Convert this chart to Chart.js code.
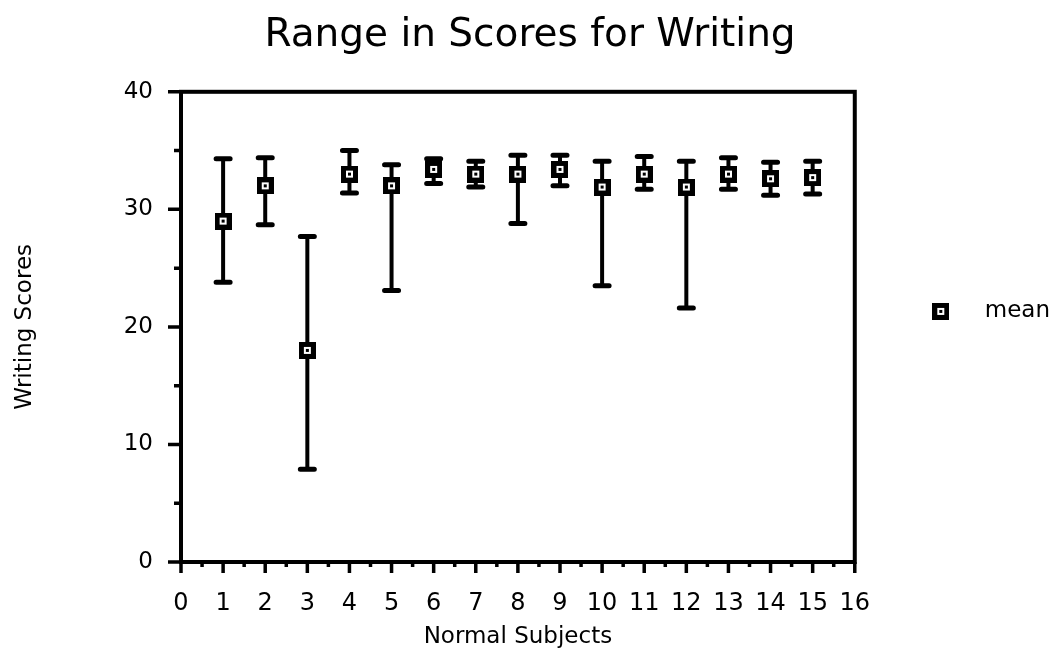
<!DOCTYPE html>
<html>
<head>
<meta charset="utf-8">
<script src="https://cdn.jsdelivr.net/npm/chart.js@4.4.1/dist/chart.umd.min.js"></script>
<style>
  html, body { margin: 0; padding: 0; background: #fff; }
  #wrap { width: 1060px; height: 667px; }
</style>
</head>
<body>
<div id="wrap"><canvas id="c" width="1060" height="667"></canvas></div>
<script>
const subjects = [1, 2, 3, 4, 5, 6, 7, 8, 9, 10, 11, 12, 13, 14, 15];
const means    = [29, 32, 18, 33, 32, 33.4, 33, 33, 33.4, 31.9, 33, 31.9, 33, 32.6, 32.7];
const highs    = [34.3, 34.4, 27.7, 35, 33.8, 34.3, 34.1, 34.6, 34.6, 34.1, 34.5, 34.1, 34.4, 34, 34.1];
const lows     = [23.8, 28.7, 7.9, 31.4, 23.1, 32.2, 31.9, 28.8, 32, 23.5, 31.7, 21.6, 31.7, 31.2, 31.3];
const xTicks = { min: 0, max: 16, step: 1 };
const yTicks = { min: 0, max: 40, step: 10 };
const titleText = 'Range in Scores for Writing';
const xTitle = 'Normal Subjects';
const yTitle = 'Writing Scores';
const seriesLabel = 'mean';

// marker: black square with a small white hollow square inside
function makeMarker() {
  const m = document.createElement('canvas');
  m.width = 17; m.height = 17;
  const g = m.getContext('2d');
  g.fillStyle = '#000';
  g.fillRect(0, 0, 17, 17);
  g.fillStyle = '#fff';
  g.fillRect(5, 5, 7, 7);
  g.fillStyle = '#000';
  g.fillRect(7, 7, 3, 3);
  return m;
}
const marker = makeMarker();

const errorBars = {
  id: 'errorBars',
  beforeDatasetsDraw(chart) {
    const { ctx, scales: { x, y } } = chart;
    ctx.save();
    ctx.strokeStyle = '#000';
    subjects.forEach((s, i) => {
      const px = x.getPixelForValue(s);
      const yh = y.getPixelForValue(highs[i]);
      const yl = y.getPixelForValue(lows[i]);
      ctx.lineCap = 'butt';
      ctx.lineWidth = 4;
      ctx.beginPath();
      ctx.moveTo(px, yh); ctx.lineTo(px, yl); ctx.stroke();
      ctx.lineCap = 'round';
      ctx.lineWidth = 5;
      ctx.beginPath();
      ctx.moveTo(px - 7, yh); ctx.lineTo(px + 7, yh);
      ctx.moveTo(px - 7, yl); ctx.lineTo(px + 7, yl);
      ctx.stroke();
    });
    ctx.restore();
  }
};

const frame = {
  id: 'frame',
  afterDatasetsDraw(chart) {
    const { ctx, chartArea: a, scales: { x, y } } = chart;
    ctx.save();
    ctx.strokeStyle = '#000';
    ctx.lineWidth = 4;
    ctx.strokeRect(a.left, a.top, a.right - a.left, a.bottom - a.top);
    ctx.lineWidth = 3.5;
    ctx.beginPath();
    // y ticks: major every 10, minor every 5
    for (let v = yTicks.min; v <= yTicks.max; v += yTicks.step / 2) {
      const py = y.getPixelForValue(v);
      const len = (v % yTicks.step === 0) ? 13 : 7;
      ctx.moveTo(a.left - len, py); ctx.lineTo(a.left, py);
    }
    // x ticks: major every 1, minor every 0.5
    for (let v = xTicks.min; v <= xTicks.max; v += xTicks.step / 2) {
      const px = x.getPixelForValue(v);
      const len = (v % xTicks.step === 0) ? 11 : 5;
      ctx.moveTo(px, a.bottom); ctx.lineTo(px, a.bottom + len);
    }
    ctx.stroke();
    ctx.restore();
  }
};

Chart.defaults.font.family = '"DejaVu Sans"';
Chart.defaults.color = '#000';

new Chart(document.getElementById('c'), {
  type: 'scatter',
  data: {
    datasets: [{
      label: seriesLabel,
      data: subjects.map((s, i) => ({ x: s, y: means[i] })),
      pointStyle: marker,
      pointRadius: 9,
      pointHoverRadius: 9,
      showLine: false
    }]
  },
  options: {
    responsive: false,
    animation: false,
    events: [],
    layout: { padding: { left: 0, right: 0, top: 0, bottom: 0 } },
    plugins: {
      legend: {
        display: true,
        position: 'right',
        align: 'start',
        title: { display: true, text: '', padding: { top: 232, bottom: 0 } },
        labels: {
          usePointStyle: true,
          pointStyleWidth: 65,
          padding: 53.5,
          color: '#000',
          font: { size: 23 }
        }
      },
      tooltip: { enabled: false },
      title: {
        display: true,
        text: titleText,
        font: { size: 39, weight: 'normal' },
        padding: { top: 12, bottom: 33 }
      }
    },
    scales: {
      x: {
        type: 'linear',
        min: xTicks.min, max: xTicks.max,
        afterFit: s => { s.height = 105; },
        border: { display: false },
        grid: { drawOnChartArea: false, drawTicks: true, tickLength: 11, tickColor: 'rgba(0,0,0,0)' },
        ticks: { stepSize: xTicks.step, autoSkip: false, maxRotation: 0, minRotation: 0, padding: 16, font: { size: 24 } },
        title: { display: true, text: xTitle, font: { size: 23 }, padding: { top: 0, bottom: 16 } }
      },
      y: {
        type: 'linear',
        min: yTicks.min, max: yTicks.max,
        afterFit: s => { s.width = 181; },
        border: { display: false },
        grid: { drawOnChartArea: false, drawTicks: true, tickLength: 13, tickColor: 'rgba(0,0,0,0)' },
        ticks: { stepSize: yTicks.step, padding: 15, font: { size: 23 } },
        title: { display: true, text: yTitle, font: { size: 23 }, padding: { top: 11, bottom: 0 } }
      }
    }
  },
  plugins: [errorBars, frame]
});
</script>
</body>
</html>
